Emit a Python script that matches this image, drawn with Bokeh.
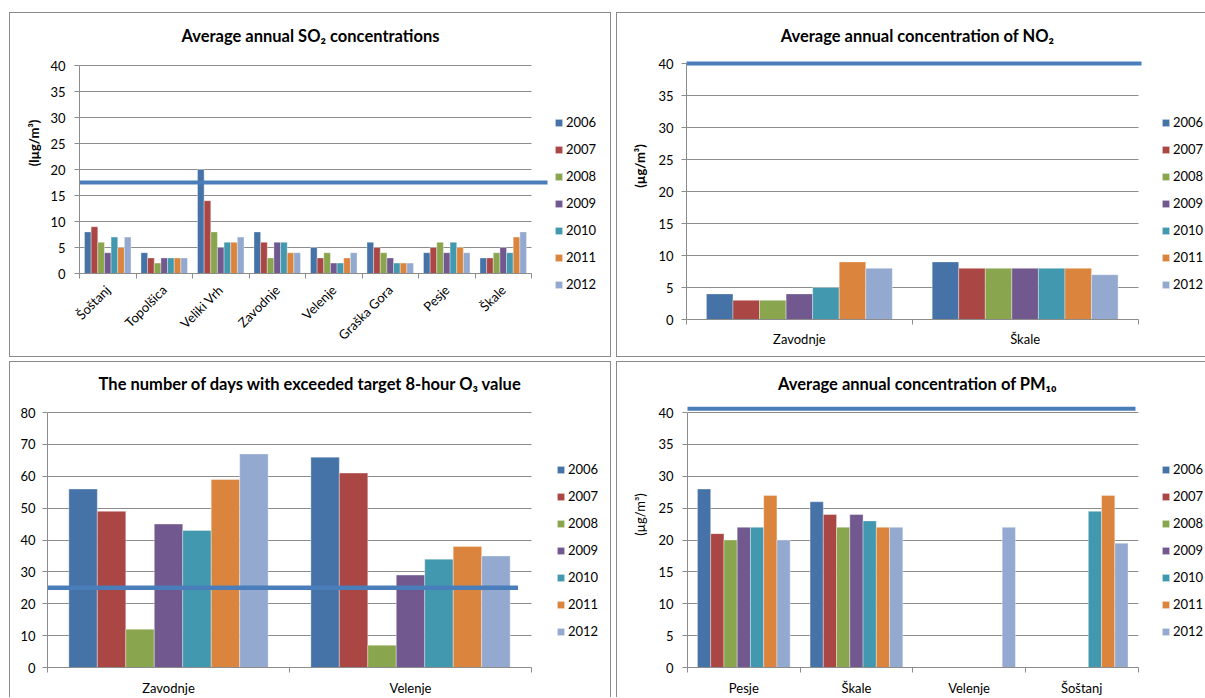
import numpy as np
from bokeh.plotting import figure
from bokeh.models import Range1d, FixedTicker, Legend, LegendItem, Label
from bokeh.embed import file_html
from bokeh.resources import INLINE

# ---------------- data ----------------
years = ["2006", "2007", "2008", "2009", "2010", "2011", "2012"]
colors = ["#4572A7", "#AA4643", "#89A54E", "#71588F", "#4198AF", "#DB843D", "#93A9CF"]

so2_sites = ["Šoštanj", "Topolšica", "Veliki Vrh", "Zavodnje", "Velenje", "Graška Gora", "Pesje", "Škale"]
so2_values = [                      # one row per year
    [8, 4, 20, 8, 5, 6, 4, 3],
    [9, 3, 14, 6, 3, 5, 5, 3],
    [6, 2, 8, 3, 4, 4, 6, 4],
    [4, 3, 5, 6, 2, 3, 4, 5],
    [7, 3, 6, 6, 2, 2, 6, 4],
    [5, 3, 6, 4, 3, 2, 5, 7],
    [7, 3, 7, 4, 4, 2, 4, 8],
]
so2_limit = 17.5

no2_sites = ["Zavodnje", "Škale"]
no2_values = [
    [4, 9],
    [3, 8],
    [3, 8],
    [4, 8],
    [5, 8],
    [9, 8],
    [8, 7],
]
no2_limit = 40

o3_sites = ["Zavodnje", "Velenje"]
o3_values = [
    [56, 66],
    [49, 61],
    [12, 7],
    [45, 29],
    [43, 34],
    [59, 38],
    [67, 35],
]
o3_limit = 25

pm10_sites = ["Pesje", "Škale", "Velenje", "Šoštanj"]
pm10_values = [
    [28, 26, np.nan, np.nan],
    [21, 24, np.nan, np.nan],
    [20, 22, np.nan, np.nan],
    [22, 24, np.nan, np.nan],
    [22, 23, np.nan, 24.5],
    [27, 22, np.nan, 27],
    [20, 22, 22, 19.5],
]
pm10_limit = 40.6

# ---------------- styling ----------------
FONT = "Lato"
GRID = "#8c8c8c"
LIMIT_COLOR = "#4a7ebb"
BORDER = "#8a8a8a"


def make_panel(title, cats, values, limit, y_max, y_step, ylabel, ylabel_bold,
               rotate, g, shadow, limit_width=4):
    n = len(cats)
    frame_l = int(round(g["data_l"]))
    frame_r = g["frame_r"]
    frame_t = 0
    ux = n / (g["data_r"] - g["data_l"])
    uy = y_max / (g["y0"] - g["ymax"])
    x_start = (frame_l - g["data_l"]) * ux
    x_end = n + (frame_r - g["data_r"]) * ux
    y_end = y_max + (g["ymax"] - frame_t) * uy

    p = figure(frame_width=frame_r - frame_l, frame_height=g["y0"] - frame_t, title=None,
               x_range=Range1d(x_start, x_end), y_range=Range1d(0, y_end),
               output_backend="svg", toolbar_location=None,
               min_border_left=frame_l, min_border_right=g["w"] - frame_r,
               min_border_top=frame_t, min_border_bottom=g["h"] - g["y0"],
               border_fill_color=None, background_fill_color=None,
               outline_line_color=None)
    p.styles = {"box-shadow": shadow, "position": "absolute",
                "left": f"{g['left']}px", "top": f"{g['top']}px",
                "width": f"{g['w']}px", "height": f"{g['h']}px"}

    # title (inside the frame, centred on the chart area)
    p.add_layout(Label(x=(g["title_x"] - g["data_l"]) * ux,
                       y=(g["y0"] - g["title_y"]) * uy,
                       text=title, text_align="center", text_baseline="middle",
                       text_font=FONT, text_font_size="16.5px",
                       text_font_style="bold", text_color="#000000"))

    # y axis
    yt = FixedTicker(ticks=list(range(0, y_max + 1, y_step)), minor_ticks=[])
    yax = p.yaxis[0]
    yax.ticker = yt
    yax.bounds = (0, y_max)
    yax.axis_line_color = GRID
    yax.major_tick_line_color = GRID
    yax.major_tick_out = 5
    yax.major_tick_in = 0
    yax.minor_tick_line_color = None
    yax.major_label_text_font = FONT
    yax.major_label_text_font_size = "13px"
    yax.major_label_text_color = "#000000"
    yax.major_label_standoff = g["ytick_standoff"]
    if ylabel:
        yax.axis_label = ylabel
        yax.axis_label_text_font = FONT
        yax.axis_label_text_font_size = "13px"
        yax.axis_label_text_font_style = "bold" if ylabel_bold else "normal"
        yax.axis_label_text_color = "#000000"
        yax.axis_label_standoff = g["ylabel_standoff"]

    # x axis (categories, ticks at category boundaries)
    centers = [i + 0.5 for i in range(n)]
    xt = FixedTicker(ticks=centers, minor_ticks=list(range(n + 1)))
    xax = p.xaxis[0]
    xax.ticker = xt
    xax.bounds = (0, n)
    xax.major_label_overrides = {c: name for c, name in zip(centers, cats)}
    xax.axis_line_color = GRID
    xax.major_tick_out = 0
    xax.major_tick_in = 0
    xax.major_tick_line_color = None
    xax.minor_tick_out = 5
    xax.minor_tick_in = 0
    xax.minor_tick_line_color = GRID
    xax.major_label_text_font = FONT
    xax.major_label_text_font_size = "13px"
    xax.major_label_text_color = "#000000"
    xax.major_label_standoff = g["xlabel_standoff"]
    if rotate:
        xax.major_label_orientation = np.pi / 4

    # grid
    p.xgrid.visible = False
    p.ygrid.ticker = yt
    p.ygrid.grid_line_color = GRID
    p.ygrid.grid_line_width = 1
    p.ygrid.cross_bounds = (0, n)

    # bars
    nser = len(years)
    bw = 1.0 / (nser + 1.5)
    gap = 0.75 * bw
    base = np.arange(n, dtype=float)
    items = []
    for j, yr in enumerate(years):
        top = np.array(values[j], dtype=float)
        r = p.vbar(x=base + gap + (j + 0.5) * bw, top=top, bottom=0, width=bw,
                   fill_color=colors[j], line_color="white", line_alpha=0.45,
                   line_width=0.8)
        items.append(LegendItem(label=yr, renderers=[r]))

    # limit line
    lx0 = (g["line_l"] - g["data_l"]) * ux
    lx1 = (g["line_r"] - g["data_l"]) * ux
    p.segment(x0=[lx0], y0=[limit], x1=[lx1], y1=[limit],
              line_color=LIMIT_COLOR, line_width=limit_width, line_cap="butt")

    # legend (in the right side panel)
    lh, sp = 18, 9
    leg_top = g["leg_c"] - lh / 2
    leg_bottom = leg_top + nser * lh + (nser - 1) * sp
    legend = Legend(items=items,
                    location=(g["leg_x"] - frame_r, g["y0"] - leg_bottom),
                    glyph_width=9, glyph_height=9, label_height=lh, spacing=sp,
                    padding=0, margin=0, label_standoff=3,
                    border_line_color=None, background_fill_alpha=0,
                    label_text_font=FONT, label_text_font_size="13px",
                    label_text_color="#000000")
    p.add_layout(legend, "right")
    return p


G1 = dict(left=9, top=12, w=602, h=345, data_l=70, data_r=522, frame_r=540,
          ymax=53, y0=261, line_l=59, line_r=538, leg_x=545, leg_c=110,
          title_x=301, title_y=23,
          ytick_standoff=9, ylabel_standoff=5, xlabel_standoff=9)
G2 = dict(left=616, top=12, w=589, h=345, data_l=70, data_r=521.5, frame_r=527,
          ymax=51, y0=307, line_l=69, line_r=525, leg_x=545, leg_c=110,
          title_x=301, title_y=23,
          ytick_standoff=8, ylabel_standoff=7, xlabel_standoff=6)
G3 = dict(left=9, top=361, w=602, h=336, data_l=38, data_r=522, frame_r=523,
          ymax=51, y0=306, line_l=37, line_r=508.5, leg_x=547, leg_c=108,
          title_x=301, title_y=22,
          ytick_standoff=7, ylabel_standoff=7, xlabel_standoff=7)
G4 = dict(left=616, top=361, w=589, h=336, data_l=71, data_r=521.5, frame_r=522,
          ymax=51, y0=306, line_l=68, line_r=519, leg_x=545, leg_c=108,
          title_x=301, title_y=22,
          ytick_standoff=9, ylabel_standoff=7, xlabel_standoff=7)

p1 = make_panel("Average annual SO₂ concentrations", so2_sites, so2_values, so2_limit,
                40, 5, "(lµg/m³)", True, True, G1,
                f"inset 0 0 0 1px {BORDER}")
p2 = make_panel("Average annual concentration of NO₂", no2_sites, no2_values, no2_limit,
                40, 5, "(µg/m³)", True, False, G2,
                f"inset 1px 1px 0 0 {BORDER}, inset 0 -1px 0 0 {BORDER}")
p3 = make_panel("The number of days with exceeded target 8-hour O₃ value", o3_sites, o3_values,
                o3_limit, 80, 10, None, False, False, G3,
                f"inset 1px 1px 0 0 {BORDER}, inset -1px 0 0 0 {BORDER}", limit_width=4.5)
p4 = make_panel("Average annual concentration of PM₁₀", pm10_sites, pm10_values, pm10_limit,
                40, 5, "(µg/m³)", False, False, G4,
                f"inset 1px 1px 0 0 {BORDER}")

open("out.html", "w").write(file_html([p1, p2, p3, p4], INLINE))
